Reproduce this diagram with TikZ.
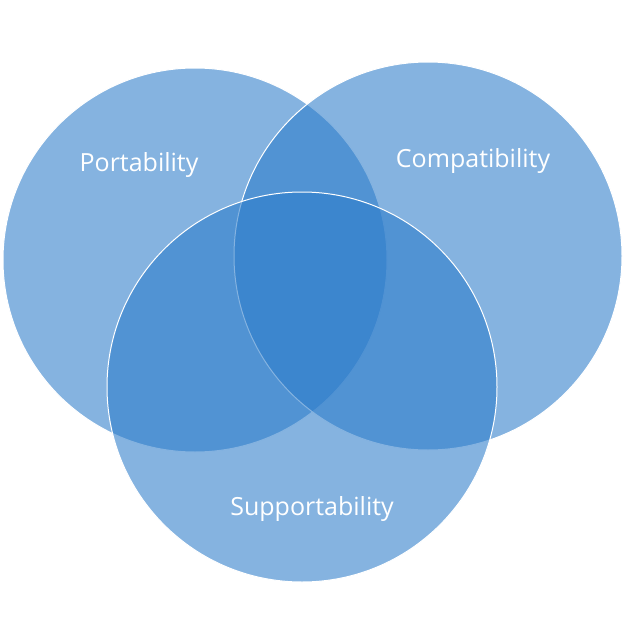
\documentclass[tikz,border=0pt]{standalone}
\usepackage{fontspec}
\setmainfont{Open Sans}
\definecolor{vc}{HTML}{2C7CCA}
\begin{document}
\begin{tikzpicture}[x=1pt,y=-1pt,
  circ/.style={circle,draw=white,line width=1pt,fill=vc,fill opacity=0.58,minimum size=#1,inner sep=0pt},
  lab/.style={text=white,font=\fontsize{25}{29}\selectfont}]
\useasboundingbox (0,0) rectangle (626,626);
\node[circ=384pt] (p) at (195,260) {};
\node[circ=388pt] (c) at (428,256) {};
\node[circ=390pt] (s) at (302,387) {};
\node[lab] (lp) at (139,165) {Portability};
\node[lab] (lc) at (473,161) {Compatibility};
\node[lab] (ls) at (312,509) {Supportability};
\end{tikzpicture}
\end{document}
